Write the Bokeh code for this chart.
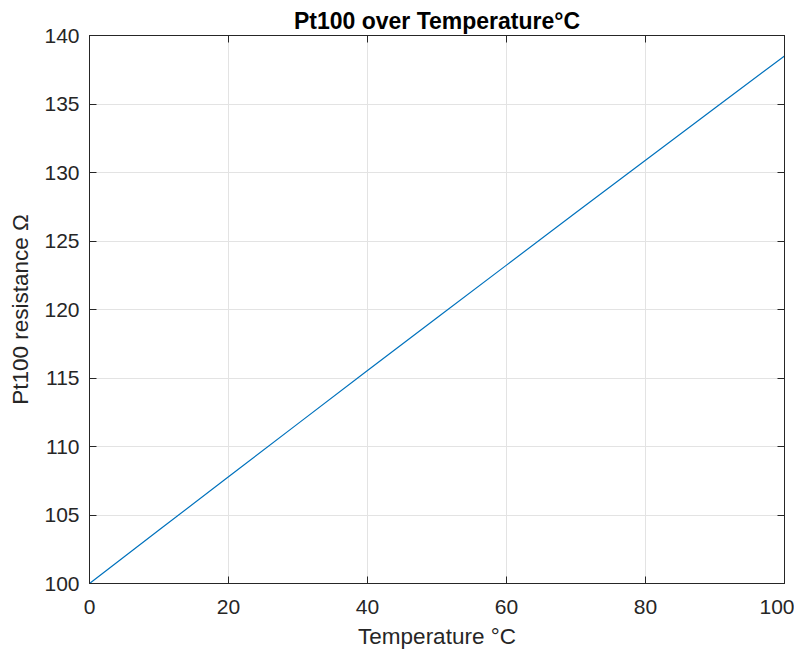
from bokeh.plotting import figure
from bokeh.models import LinearAxis, FixedTicker, Range1d
from bokeh.embed import file_html
from bokeh.resources import INLINE

# Data (Pt100 resistance vs temperature)
temperature = [0, 10, 20, 30, 40, 50, 60, 70, 80, 90, 100]
resistance = [100.0, 103.90, 107.79, 111.67, 115.54, 119.40, 123.24, 127.08, 130.90, 134.71, 138.51]
x_ticks = [0, 20, 40, 60, 80, 100]
y_ticks = [100, 105, 110, 115, 120, 125, 130, 135, 140]

FONT = "Liberation Sans"
AX = "#262626"

p = figure(width=794, height=652, output_backend="svg", toolbar_location=None,
           x_range=Range1d(0, 100), y_range=Range1d(100, 140),
           min_border_left=89, min_border_right=10, min_border_top=35, min_border_bottom=69,
           title="Pt100 over Temperature°C")
p.title.align = "center"
p.title.text_font = FONT
p.title.text_font_size = "23px"
p.title.text_font_style = "bold"
p.title.text_color = "#000000"
p.title.standoff = 4

p.line(temperature, resistance, line_color="#0072BD", line_width=1.2)

p.outline_line_color = AX
p.outline_line_width = 1
p.background_fill_color = "white"
p.border_fill_color = "white"

p.xaxis.ticker = FixedTicker(ticks=x_ticks)
p.yaxis.ticker = FixedTicker(ticks=y_ticks)
for ax in (p.xaxis[0], p.yaxis[0]):
    ax.major_tick_in = 7
    ax.major_tick_out = 0
    ax.minor_tick_in = 0
    ax.minor_tick_out = 0
    ax.axis_line_color = AX
    ax.major_tick_line_color = AX
    ax.major_label_text_font = FONT
    ax.major_label_text_font_size = "21px"
    ax.major_label_text_color = AX
    ax.axis_label_text_font = FONT
    ax.axis_label_text_font_size = "22.5px"
    ax.axis_label_text_font_style = "normal"
    ax.axis_label_text_color = AX
p.xaxis.axis_label = "Temperature °C"
p.yaxis.axis_label = "Pt100 resistance Ω"
p.xaxis.major_label_standoff = 16
p.yaxis.major_label_standoff = 10
p.xaxis.axis_label_standoff = 7
p.yaxis.axis_label_standoff = 8

# top/right tick marks (box on), without labels
top = LinearAxis(ticker=FixedTicker(ticks=x_ticks),
                 major_label_overrides={t: "" for t in x_ticks},
                 major_tick_in=7, major_tick_out=0, minor_tick_in=0, minor_tick_out=0,
                 axis_line_color=AX, major_tick_line_color=AX, major_label_standoff=0)
right = LinearAxis(ticker=FixedTicker(ticks=y_ticks),
                   major_label_overrides={t: "" for t in y_ticks},
                   major_tick_in=7, major_tick_out=0, minor_tick_in=0, minor_tick_out=0,
                   axis_line_color=AX, major_tick_line_color=AX, major_label_standoff=0)
p.add_layout(top, "above")
p.add_layout(right, "right")

p.xgrid.ticker = FixedTicker(ticks=x_ticks)
p.ygrid.ticker = FixedTicker(ticks=y_ticks)
p.grid.grid_line_color = "#e3e3e3"
p.grid.grid_line_width = 1

open("out.html", "w").write(file_html(p, INLINE))
